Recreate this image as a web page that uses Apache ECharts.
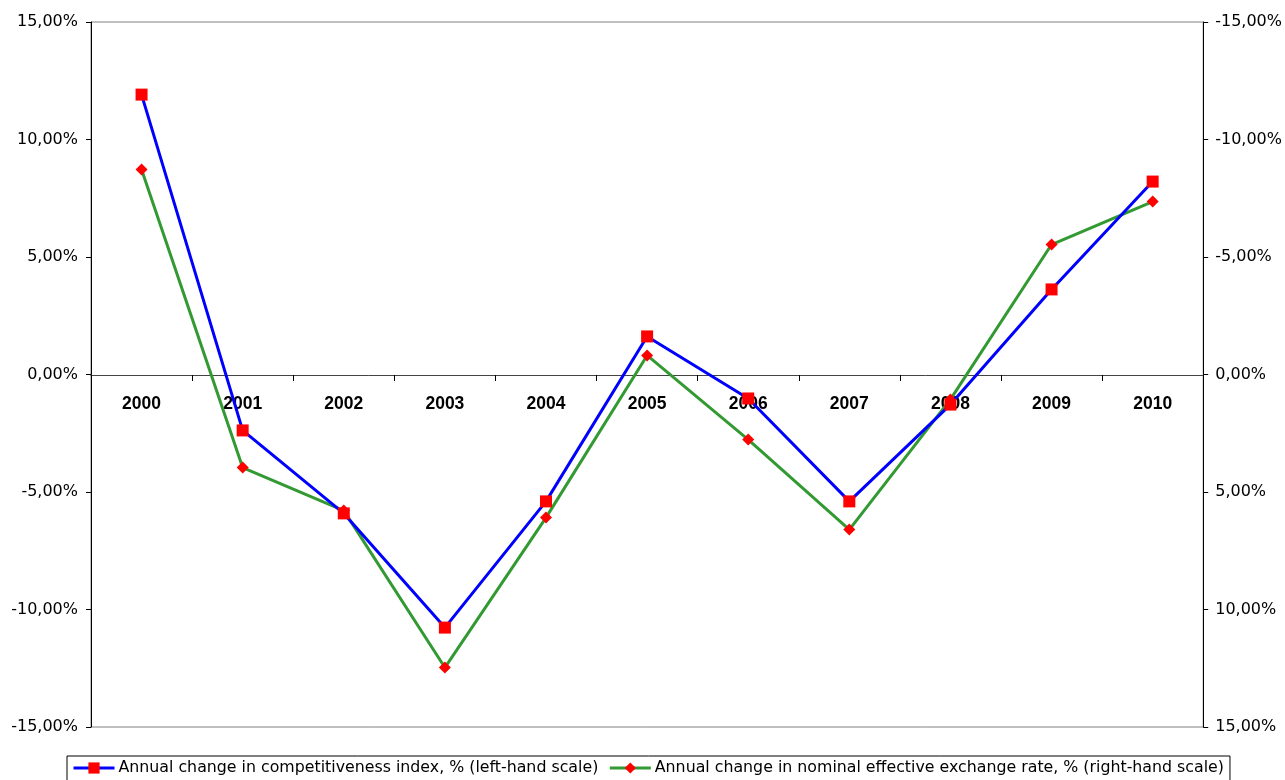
<!DOCTYPE html>
<html>
<head>
<meta charset="utf-8">
<script src="https://cdn.jsdelivr.net/npm/echarts@6/dist/echarts.min.js"></script>
<style>
html,body{margin:0;padding:0;background:#fff;}
#chart{width:1285px;height:780px;}
</style>
</head>
<body>
<div id="chart"></div>
<script>
const years = ['2000','2001','2002','2003','2004','2005','2006','2007','2008','2009','2010'];
const competitiveness = [11.91, -2.38, -5.91, -10.77, -5.40, 1.62, -1.02, -5.40, -1.28, 3.62, 8.21];
const exchangeRate = [-8.72, 3.96, 5.79, 12.47, 6.09, -0.81, 2.77, 6.60, 1.06, -5.53, -7.36];
const seriesNames = [
  'Annual change in competitiveness index, % (left-hand scale)',
  'Annual change in nominal effective exchange rate, % (right-hand scale)'
];

const fmt = v => v.toFixed(2).replace('.', ',') + '%';
const font = 'DejaVu Sans, sans-serif';
const boldFont = 'Liberation Sans, Arial, sans-serif';

const chart = echarts.init(document.getElementById('chart'));
chart.setOption({
  animation: false,
  textStyle: { fontFamily: font },
  grid: { left: 91, right: 81, top: 22, bottom: 53, show: true, borderColor: '#808080', borderWidth: 1 },
  legend: {
    top: 756,
    left: 67,
    padding: [4, 6, 6, 5],
    borderColor: '#000',
    borderWidth: 1,
    itemGap: 10,
    itemWidth: 41,
    itemHeight: 14,
    lineStyle: { width: 3 },
    textStyle: { fontFamily: font, fontSize: 15.8, color: '#000', padding: [0, 0, 0, -1] },
    data: seriesNames
  },
  xAxis: {
    type: 'category',
    data: years,
    boundaryGap: true,
    offset: -352,
    axisLine: { onZero: false, lineStyle: { color: '#444', width: 1 } },
    axisTick: { show: true, length: 6, lineStyle: { color: '#000' } },
    axisLabel: { fontFamily: boldFont, fontSize: 17.5, fontWeight: 'bold', color: '#000', margin: 20 },
    splitLine: { show: false }
  },
  yAxis: [
    {
      type: 'value', min: -15, max: 15, interval: 5,
      axisLine: { show: true, lineStyle: { color: '#000' } },
      axisTick: { show: true, length: 5, lineStyle: { color: '#000' } },
      axisLabel: { formatter: fmt, fontFamily: font, fontSize: 16, color: '#000', margin: 13 },
      splitLine: { show: false }
    },
    {
      type: 'value', min: -15, max: 15, interval: 5, inverse: true,
      axisLine: { show: true, lineStyle: { color: '#000' } },
      axisTick: { show: true, length: 5, lineStyle: { color: '#000' } },
      axisLabel: { formatter: fmt, fontFamily: font, fontSize: 16, color: '#000', margin: 12 },
      splitLine: { show: false }
    }
  ],
  series: [
    {
      name: seriesNames[0], type: 'line', yAxisIndex: 0, data: competitiveness,
      symbol: 'rect', symbolSize: 12,
      lineStyle: { color: '#0000FF', width: 3 },
      itemStyle: { color: '#FF0000' },
      z: 3
    },
    {
      name: seriesNames[1], type: 'line', yAxisIndex: 1, data: exchangeRate,
      symbol: 'diamond', symbolSize: 12,
      lineStyle: { color: '#339933', width: 3 },
      itemStyle: { color: '#FF0000' },
      z: 2
    }
  ]
});
</script>
</body>
</html>
